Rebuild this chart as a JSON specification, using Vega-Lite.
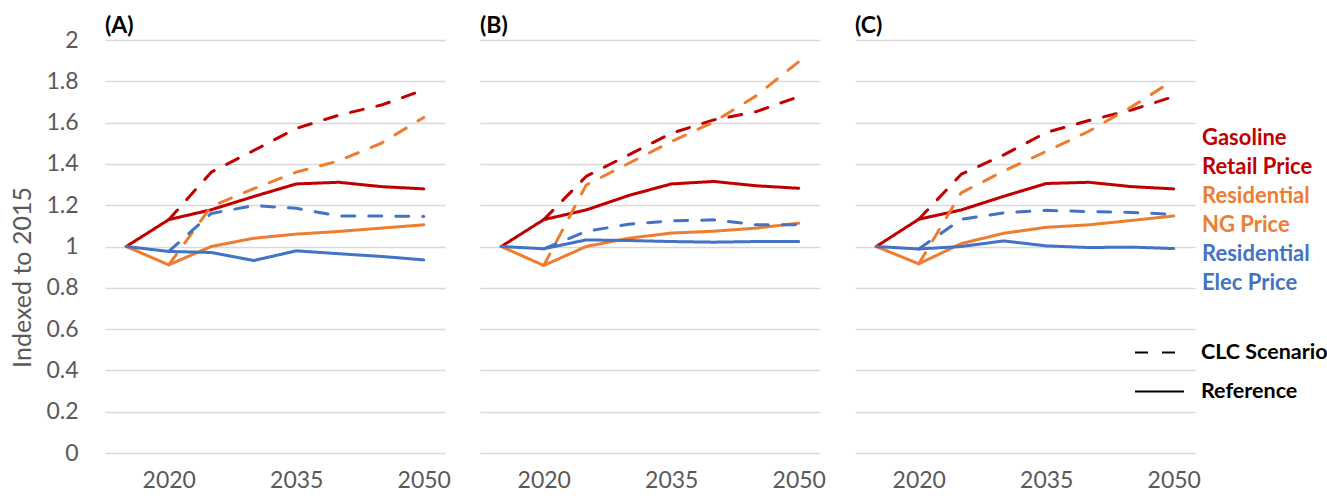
{
  "$schema": "https://vega.github.io/schema/vega-lite/v6.json",
  "padding": {"left": 10, "top": 15, "right": 0, "bottom": 0},
  "background": "white",
  "config": {"font": "Lato", "view": {"stroke": null}},
  "data": {"values": [
    {"panel": "(A)", "series": "Gasoline Retail Price", "scenario": "Reference", "year": 2015, "value": 1.0},
    {"panel": "(A)", "series": "Gasoline Retail Price", "scenario": "Reference", "year": 2020, "value": 1.13},
    {"panel": "(A)", "series": "Gasoline Retail Price", "scenario": "Reference", "year": 2025, "value": 1.178},
    {"panel": "(A)", "series": "Gasoline Retail Price", "scenario": "Reference", "year": 2030, "value": 1.242},
    {"panel": "(A)", "series": "Gasoline Retail Price", "scenario": "Reference", "year": 2035, "value": 1.303},
    {"panel": "(A)", "series": "Gasoline Retail Price", "scenario": "Reference", "year": 2040, "value": 1.311},
    {"panel": "(A)", "series": "Gasoline Retail Price", "scenario": "Reference", "year": 2045, "value": 1.29},
    {"panel": "(A)", "series": "Gasoline Retail Price", "scenario": "Reference", "year": 2050, "value": 1.279},
    {"panel": "(A)", "series": "Gasoline Retail Price", "scenario": "CLC Scenario", "year": 2020, "value": 1.13},
    {"panel": "(A)", "series": "Gasoline Retail Price", "scenario": "CLC Scenario", "year": 2025, "value": 1.36},
    {"panel": "(A)", "series": "Gasoline Retail Price", "scenario": "CLC Scenario", "year": 2030, "value": 1.465},
    {"panel": "(A)", "series": "Gasoline Retail Price", "scenario": "CLC Scenario", "year": 2035, "value": 1.572},
    {"panel": "(A)", "series": "Gasoline Retail Price", "scenario": "CLC Scenario", "year": 2040, "value": 1.636},
    {"panel": "(A)", "series": "Gasoline Retail Price", "scenario": "CLC Scenario", "year": 2045, "value": 1.685},
    {"panel": "(A)", "series": "Gasoline Retail Price", "scenario": "CLC Scenario", "year": 2050, "value": 1.758},
    {"panel": "(A)", "series": "Residential NG Price", "scenario": "Reference", "year": 2015, "value": 1.0},
    {"panel": "(A)", "series": "Residential NG Price", "scenario": "Reference", "year": 2020, "value": 0.911},
    {"panel": "(A)", "series": "Residential NG Price", "scenario": "Reference", "year": 2025, "value": 1.0},
    {"panel": "(A)", "series": "Residential NG Price", "scenario": "Reference", "year": 2030, "value": 1.04},
    {"panel": "(A)", "series": "Residential NG Price", "scenario": "Reference", "year": 2035, "value": 1.06},
    {"panel": "(A)", "series": "Residential NG Price", "scenario": "Reference", "year": 2040, "value": 1.073},
    {"panel": "(A)", "series": "Residential NG Price", "scenario": "Reference", "year": 2045, "value": 1.089},
    {"panel": "(A)", "series": "Residential NG Price", "scenario": "Reference", "year": 2050, "value": 1.105},
    {"panel": "(A)", "series": "Residential NG Price", "scenario": "CLC Scenario", "year": 2020, "value": 0.911},
    {"panel": "(A)", "series": "Residential NG Price", "scenario": "CLC Scenario", "year": 2025, "value": 1.194},
    {"panel": "(A)", "series": "Residential NG Price", "scenario": "CLC Scenario", "year": 2030, "value": 1.28},
    {"panel": "(A)", "series": "Residential NG Price", "scenario": "CLC Scenario", "year": 2035, "value": 1.36},
    {"panel": "(A)", "series": "Residential NG Price", "scenario": "CLC Scenario", "year": 2040, "value": 1.415},
    {"panel": "(A)", "series": "Residential NG Price", "scenario": "CLC Scenario", "year": 2045, "value": 1.5},
    {"panel": "(A)", "series": "Residential NG Price", "scenario": "CLC Scenario", "year": 2050, "value": 1.625},
    {"panel": "(A)", "series": "Residential Elec Price", "scenario": "Reference", "year": 2015, "value": 1.0},
    {"panel": "(A)", "series": "Residential Elec Price", "scenario": "Reference", "year": 2020, "value": 0.976},
    {"panel": "(A)", "series": "Residential Elec Price", "scenario": "Reference", "year": 2025, "value": 0.971},
    {"panel": "(A)", "series": "Residential Elec Price", "scenario": "Reference", "year": 2030, "value": 0.932},
    {"panel": "(A)", "series": "Residential Elec Price", "scenario": "Reference", "year": 2035, "value": 0.979},
    {"panel": "(A)", "series": "Residential Elec Price", "scenario": "Reference", "year": 2040, "value": 0.965},
    {"panel": "(A)", "series": "Residential Elec Price", "scenario": "Reference", "year": 2045, "value": 0.952},
    {"panel": "(A)", "series": "Residential Elec Price", "scenario": "Reference", "year": 2050, "value": 0.935},
    {"panel": "(A)", "series": "Residential Elec Price", "scenario": "CLC Scenario", "year": 2020, "value": 0.976},
    {"panel": "(A)", "series": "Residential Elec Price", "scenario": "CLC Scenario", "year": 2025, "value": 1.16},
    {"panel": "(A)", "series": "Residential Elec Price", "scenario": "CLC Scenario", "year": 2030, "value": 1.198},
    {"panel": "(A)", "series": "Residential Elec Price", "scenario": "CLC Scenario", "year": 2035, "value": 1.185},
    {"panel": "(A)", "series": "Residential Elec Price", "scenario": "CLC Scenario", "year": 2040, "value": 1.148},
    {"panel": "(A)", "series": "Residential Elec Price", "scenario": "CLC Scenario", "year": 2045, "value": 1.148},
    {"panel": "(A)", "series": "Residential Elec Price", "scenario": "CLC Scenario", "year": 2050, "value": 1.145},

    {"panel": "(B)", "series": "Gasoline Retail Price", "scenario": "Reference", "year": 2015, "value": 1.0},
    {"panel": "(B)", "series": "Gasoline Retail Price", "scenario": "Reference", "year": 2020, "value": 1.13},
    {"panel": "(B)", "series": "Gasoline Retail Price", "scenario": "Reference", "year": 2025, "value": 1.177},
    {"panel": "(B)", "series": "Gasoline Retail Price", "scenario": "Reference", "year": 2030, "value": 1.247},
    {"panel": "(B)", "series": "Gasoline Retail Price", "scenario": "Reference", "year": 2035, "value": 1.303},
    {"panel": "(B)", "series": "Gasoline Retail Price", "scenario": "Reference", "year": 2040, "value": 1.315},
    {"panel": "(B)", "series": "Gasoline Retail Price", "scenario": "Reference", "year": 2045, "value": 1.294},
    {"panel": "(B)", "series": "Gasoline Retail Price", "scenario": "Reference", "year": 2050, "value": 1.282},
    {"panel": "(B)", "series": "Gasoline Retail Price", "scenario": "CLC Scenario", "year": 2020, "value": 1.13},
    {"panel": "(B)", "series": "Gasoline Retail Price", "scenario": "CLC Scenario", "year": 2025, "value": 1.34},
    {"panel": "(B)", "series": "Gasoline Retail Price", "scenario": "CLC Scenario", "year": 2030, "value": 1.444},
    {"panel": "(B)", "series": "Gasoline Retail Price", "scenario": "CLC Scenario", "year": 2035, "value": 1.548},
    {"panel": "(B)", "series": "Gasoline Retail Price", "scenario": "CLC Scenario", "year": 2040, "value": 1.613},
    {"panel": "(B)", "series": "Gasoline Retail Price", "scenario": "CLC Scenario", "year": 2045, "value": 1.653},
    {"panel": "(B)", "series": "Gasoline Retail Price", "scenario": "CLC Scenario", "year": 2050, "value": 1.726},
    {"panel": "(B)", "series": "Residential NG Price", "scenario": "Reference", "year": 2015, "value": 1.0},
    {"panel": "(B)", "series": "Residential NG Price", "scenario": "Reference", "year": 2020, "value": 0.908},
    {"panel": "(B)", "series": "Residential NG Price", "scenario": "Reference", "year": 2025, "value": 1.0},
    {"panel": "(B)", "series": "Residential NG Price", "scenario": "Reference", "year": 2030, "value": 1.04},
    {"panel": "(B)", "series": "Residential NG Price", "scenario": "Reference", "year": 2035, "value": 1.065},
    {"panel": "(B)", "series": "Residential NG Price", "scenario": "Reference", "year": 2040, "value": 1.074},
    {"panel": "(B)", "series": "Residential NG Price", "scenario": "Reference", "year": 2045, "value": 1.089},
    {"panel": "(B)", "series": "Residential NG Price", "scenario": "Reference", "year": 2050, "value": 1.113},
    {"panel": "(B)", "series": "Residential NG Price", "scenario": "CLC Scenario", "year": 2020, "value": 0.908},
    {"panel": "(B)", "series": "Residential NG Price", "scenario": "CLC Scenario", "year": 2025, "value": 1.298},
    {"panel": "(B)", "series": "Residential NG Price", "scenario": "CLC Scenario", "year": 2030, "value": 1.403},
    {"panel": "(B)", "series": "Residential NG Price", "scenario": "CLC Scenario", "year": 2035, "value": 1.508},
    {"panel": "(B)", "series": "Residential NG Price", "scenario": "CLC Scenario", "year": 2040, "value": 1.603},
    {"panel": "(B)", "series": "Residential NG Price", "scenario": "CLC Scenario", "year": 2045, "value": 1.73},
    {"panel": "(B)", "series": "Residential NG Price", "scenario": "CLC Scenario", "year": 2050, "value": 1.895},
    {"panel": "(B)", "series": "Residential Elec Price", "scenario": "Reference", "year": 2015, "value": 1.0},
    {"panel": "(B)", "series": "Residential Elec Price", "scenario": "Reference", "year": 2020, "value": 0.989},
    {"panel": "(B)", "series": "Residential Elec Price", "scenario": "Reference", "year": 2025, "value": 1.032},
    {"panel": "(B)", "series": "Residential Elec Price", "scenario": "Reference", "year": 2030, "value": 1.029},
    {"panel": "(B)", "series": "Residential Elec Price", "scenario": "Reference", "year": 2035, "value": 1.024},
    {"panel": "(B)", "series": "Residential Elec Price", "scenario": "Reference", "year": 2040, "value": 1.021},
    {"panel": "(B)", "series": "Residential Elec Price", "scenario": "Reference", "year": 2045, "value": 1.024},
    {"panel": "(B)", "series": "Residential Elec Price", "scenario": "Reference", "year": 2050, "value": 1.024},
    {"panel": "(B)", "series": "Residential Elec Price", "scenario": "CLC Scenario", "year": 2020, "value": 0.989},
    {"panel": "(B)", "series": "Residential Elec Price", "scenario": "CLC Scenario", "year": 2025, "value": 1.073},
    {"panel": "(B)", "series": "Residential Elec Price", "scenario": "CLC Scenario", "year": 2030, "value": 1.108},
    {"panel": "(B)", "series": "Residential Elec Price", "scenario": "CLC Scenario", "year": 2035, "value": 1.124},
    {"panel": "(B)", "series": "Residential Elec Price", "scenario": "CLC Scenario", "year": 2040, "value": 1.129},
    {"panel": "(B)", "series": "Residential Elec Price", "scenario": "CLC Scenario", "year": 2045, "value": 1.105},
    {"panel": "(B)", "series": "Residential Elec Price", "scenario": "CLC Scenario", "year": 2050, "value": 1.105},

    {"panel": "(C)", "series": "Gasoline Retail Price", "scenario": "Reference", "year": 2015, "value": 1.0},
    {"panel": "(C)", "series": "Gasoline Retail Price", "scenario": "Reference", "year": 2020, "value": 1.132},
    {"panel": "(C)", "series": "Gasoline Retail Price", "scenario": "Reference", "year": 2025, "value": 1.177},
    {"panel": "(C)", "series": "Gasoline Retail Price", "scenario": "Reference", "year": 2030, "value": 1.243},
    {"panel": "(C)", "series": "Gasoline Retail Price", "scenario": "Reference", "year": 2035, "value": 1.305},
    {"panel": "(C)", "series": "Gasoline Retail Price", "scenario": "Reference", "year": 2040, "value": 1.311},
    {"panel": "(C)", "series": "Gasoline Retail Price", "scenario": "Reference", "year": 2045, "value": 1.29},
    {"panel": "(C)", "series": "Gasoline Retail Price", "scenario": "Reference", "year": 2050, "value": 1.279},
    {"panel": "(C)", "series": "Gasoline Retail Price", "scenario": "CLC Scenario", "year": 2020, "value": 1.132},
    {"panel": "(C)", "series": "Gasoline Retail Price", "scenario": "CLC Scenario", "year": 2025, "value": 1.35},
    {"panel": "(C)", "series": "Gasoline Retail Price", "scenario": "CLC Scenario", "year": 2030, "value": 1.444},
    {"panel": "(C)", "series": "Gasoline Retail Price", "scenario": "CLC Scenario", "year": 2035, "value": 1.552},
    {"panel": "(C)", "series": "Gasoline Retail Price", "scenario": "CLC Scenario", "year": 2040, "value": 1.61},
    {"panel": "(C)", "series": "Gasoline Retail Price", "scenario": "CLC Scenario", "year": 2045, "value": 1.661},
    {"panel": "(C)", "series": "Gasoline Retail Price", "scenario": "CLC Scenario", "year": 2050, "value": 1.726},
    {"panel": "(C)", "series": "Residential NG Price", "scenario": "Reference", "year": 2015, "value": 1.0},
    {"panel": "(C)", "series": "Residential NG Price", "scenario": "Reference", "year": 2020, "value": 0.916},
    {"panel": "(C)", "series": "Residential NG Price", "scenario": "Reference", "year": 2025, "value": 1.014},
    {"panel": "(C)", "series": "Residential NG Price", "scenario": "Reference", "year": 2030, "value": 1.064},
    {"panel": "(C)", "series": "Residential NG Price", "scenario": "Reference", "year": 2035, "value": 1.093},
    {"panel": "(C)", "series": "Residential NG Price", "scenario": "Reference", "year": 2040, "value": 1.105},
    {"panel": "(C)", "series": "Residential NG Price", "scenario": "Reference", "year": 2045, "value": 1.126},
    {"panel": "(C)", "series": "Residential NG Price", "scenario": "Reference", "year": 2050, "value": 1.148},
    {"panel": "(C)", "series": "Residential NG Price", "scenario": "CLC Scenario", "year": 2020, "value": 0.916},
    {"panel": "(C)", "series": "Residential NG Price", "scenario": "CLC Scenario", "year": 2025, "value": 1.26},
    {"panel": "(C)", "series": "Residential NG Price", "scenario": "CLC Scenario", "year": 2030, "value": 1.365},
    {"panel": "(C)", "series": "Residential NG Price", "scenario": "CLC Scenario", "year": 2035, "value": 1.461},
    {"panel": "(C)", "series": "Residential NG Price", "scenario": "CLC Scenario", "year": 2040, "value": 1.558},
    {"panel": "(C)", "series": "Residential NG Price", "scenario": "CLC Scenario", "year": 2045, "value": 1.675},
    {"panel": "(C)", "series": "Residential NG Price", "scenario": "CLC Scenario", "year": 2050, "value": 1.806},
    {"panel": "(C)", "series": "Residential Elec Price", "scenario": "Reference", "year": 2015, "value": 1.0},
    {"panel": "(C)", "series": "Residential Elec Price", "scenario": "Reference", "year": 2020, "value": 0.988},
    {"panel": "(C)", "series": "Residential Elec Price", "scenario": "Reference", "year": 2025, "value": 1.0},
    {"panel": "(C)", "series": "Residential Elec Price", "scenario": "Reference", "year": 2030, "value": 1.027},
    {"panel": "(C)", "series": "Residential Elec Price", "scenario": "Reference", "year": 2035, "value": 1.003},
    {"panel": "(C)", "series": "Residential Elec Price", "scenario": "Reference", "year": 2040, "value": 0.995},
    {"panel": "(C)", "series": "Residential Elec Price", "scenario": "Reference", "year": 2045, "value": 0.997},
    {"panel": "(C)", "series": "Residential Elec Price", "scenario": "Reference", "year": 2050, "value": 0.99},
    {"panel": "(C)", "series": "Residential Elec Price", "scenario": "CLC Scenario", "year": 2020, "value": 0.988},
    {"panel": "(C)", "series": "Residential Elec Price", "scenario": "CLC Scenario", "year": 2025, "value": 1.132},
    {"panel": "(C)", "series": "Residential Elec Price", "scenario": "CLC Scenario", "year": 2030, "value": 1.163},
    {"panel": "(C)", "series": "Residential Elec Price", "scenario": "CLC Scenario", "year": 2035, "value": 1.175},
    {"panel": "(C)", "series": "Residential Elec Price", "scenario": "CLC Scenario", "year": 2040, "value": 1.169},
    {"panel": "(C)", "series": "Residential Elec Price", "scenario": "CLC Scenario", "year": 2045, "value": 1.165},
    {"panel": "(C)", "series": "Residential Elec Price", "scenario": "CLC Scenario", "year": 2050, "value": 1.156}
  ]},
  "facet": {
    "column": {
      "field": "panel", "type": "nominal", "title": null,
      "header": {"labelAnchor": "start", "labelFontWeight": "bold", "labelFontSize": 23, "labelColor": "black", "labelFont": "Lato", "labelPadding": 2}
    }
  },
  "spacing": 35,
  "spec": {
    "width": 340,
    "height": 413,
    "mark": {"type": "line", "strokeWidth": 3, "strokeCap": "round", "strokeJoin": "round"},
    "encoding": {
      "x": {
        "field": "year", "type": "ordinal",
        "scale": {"type": "point", "padding": 0.5},
        "axis": {"values": [2020, 2035, 2050], "title": null, "domain": false, "ticks": false, "grid": false, "labelAngle": 0, "labelFontSize": 23, "labelColor": "#595959", "labelPadding": 16}
      },
      "y": {
        "field": "value", "type": "quantitative",
        "scale": {"domain": [0, 2], "nice": false, "zero": true},
        "axis": {
          "values": [0, 0.2, 0.4, 0.6, 0.8, 1, 1.2, 1.4, 1.6, 1.8, 2], "format": "~g",
          "title": "Indexed to 2015", "titleFontSize": 25, "titleFontWeight": "normal", "titleColor": "#595959", "titlePadding": 10, "titleY": 237,
          "labelFontSize": 23, "labelColor": "#595959", "labelPadding": 27,
          "ticks": false, "domain": false, "gridColor": "#d9d9d9", "gridWidth": 1.5
        }
      },
      "color": {
        "field": "series", "type": "nominal",
        "scale": {"domain": ["Gasoline Retail Price", "Residential NG Price", "Residential Elec Price"], "range": ["#C00000", "#ED7D31", "#4472C4"]},
        "legend": {
          "orient": "none", "legendX": 1075, "legendY": 87, "title": null, "padding": 0,
          "symbolOpacity": 0, "symbolSize": 0, "symbolStrokeWidth": 0, "labelOffset": 0,
          "labelFontSize": 22, "labelFontWeight": "bold", "labelLimit": 300, "rowPadding": 7,
          "labelExpr": "datum.label == 'Gasoline Retail Price' ? ['Gasoline', 'Retail Price'] : datum.label == 'Residential NG Price' ? ['Residential', 'NG Price'] : ['Residential', 'Elec Price']",
          "encode": {"labels": {"update": {"fill": {"scale": "color", "field": "value"}, "lineHeight": {"value": 29}}}}
        }
      },
      "strokeDash": {
        "field": "scenario", "type": "nominal",
        "scale": {"domain": ["CLC Scenario", "Reference"], "range": [[13, 14], [1, 0]]},
        "legend": {
          "orient": "none", "legendX": 1029, "legendY": 287, "title": null, "padding": 0,
          "symbolType": "stroke", "symbolSize": 2401, "symbolStrokeColor": "black", "symbolStrokeWidth": 2,
          "labelFontSize": 21.5, "labelFontWeight": "bold", "labelColor": "black", "labelOffset": 16, "rowPadding": 3,
          "encode": {"symbols": {"update": {"strokeDash": {"signal": "datum.value === 'CLC Scenario' ? [10, 7] : [1, 0]"}}}}
        }
      }
    }
  }
}
